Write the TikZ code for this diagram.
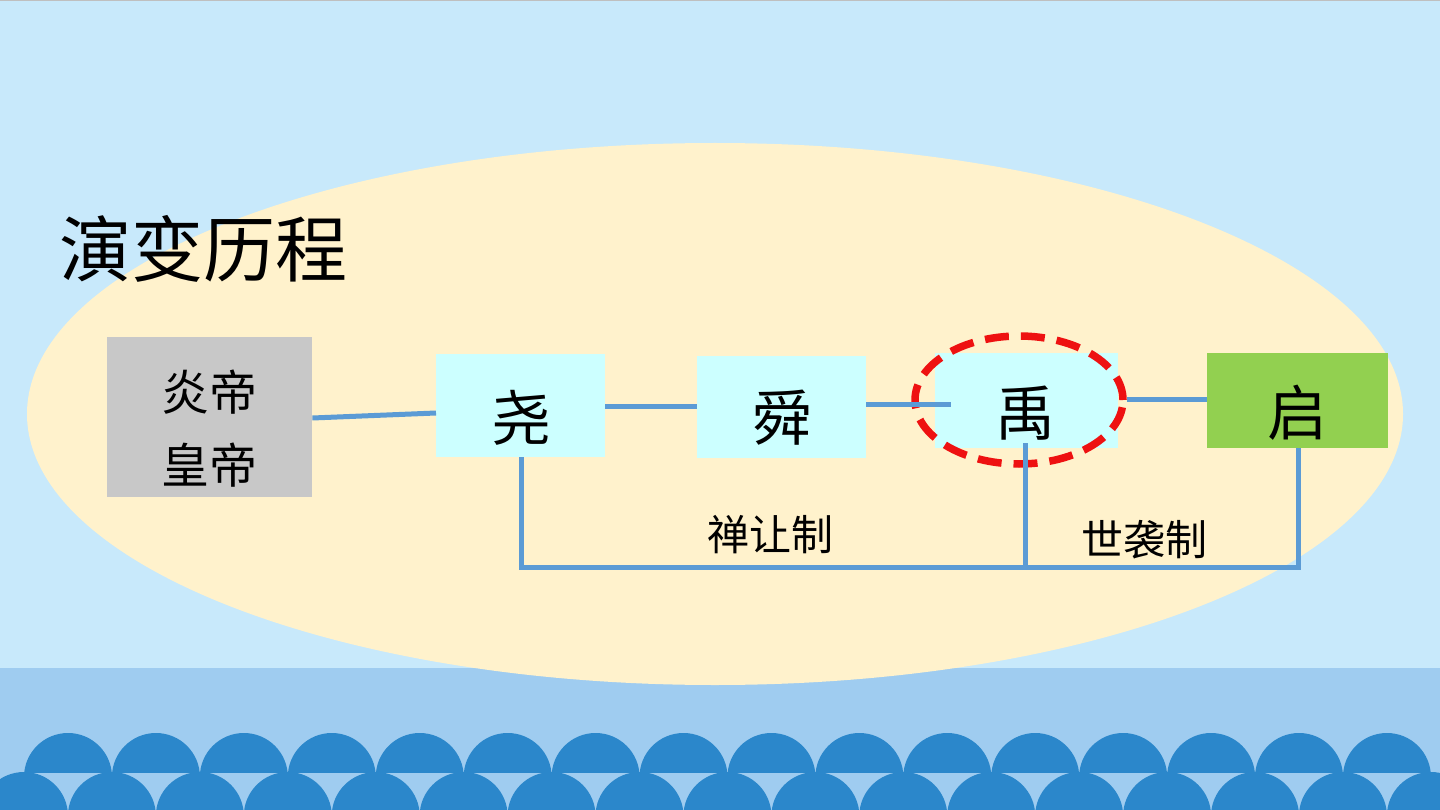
\documentclass[tikz,border=0pt]{standalone}
\usepackage{fontspec}
\setmainfont{Noto Sans CJK SC}
\usetikzlibrary{shapes.geometric}
\definecolor{skybg}{HTML}{C8E9FB}
\definecolor{bandbg}{HTML}{9FCCF0}
\definecolor{wave}{HTML}{2B87CB}
\definecolor{ellfill}{HTML}{FFF2CC}
\definecolor{graybox}{HTML}{C8C8C8}
\definecolor{cyanbox}{HTML}{CCFFFF}
\definecolor{greenbox}{HTML}{92D050}
\definecolor{link}{HTML}{5B9BD5}
\definecolor{redd}{HTML}{EE1111}
\tikzset{
  box/.style={rectangle, inner sep=0pt, anchor=north west},
  conn/.style={draw=link, line width=5pt},
  bigchar/.style={font=\fontsize{60}{70}\selectfont},
  lbl/.style={font=\fontsize{42}{50}\selectfont, inner sep=0pt}
}
\begin{document}
\begin{tikzpicture}[x=1pt,y=-1pt]
\useasboundingbox (0,0) rectangle (1440,810);
% background
\fill[skybg] (0,0) rectangle (1440,810);
\draw[gray!50, line width=1.5pt] (0,0.75) -- (1440,0.75);
\fill[bandbg] (0,668) rectangle (1440,810);
% waves
\begin{scope}
  \clip (0,700) rectangle (1440,772);
  \foreach \k in {0,...,15} {
    \fill[wave] ({68+87.93*\k},777) circle (44);
  }
\end{scope}
\begin{scope}
  \clip (0,700) rectangle (1440,810);
  \foreach \k in {0,...,16} {
    \fill[wave] ({24+87.93*\k},816) circle (44);
  }
\end{scope}
% big ellipse
\fill[ellfill] (715,414) ellipse [x radius=688, y radius=271];
% title
\node[font=\fontsize{72}{86}\selectfont, inner sep=0pt] (title) at (203,249) {演变历程};
% boxes
\node[box, fill=graybox, minimum width=205pt, minimum height=160pt] (yd) at (107,337) {};
\node[font=\fontsize{48}{58}\selectfont, inner sep=0pt] (yd1) at (209,392) {炎帝};
\node[font=\fontsize{48}{58}\selectfont, inner sep=0pt] (yd2) at (209,465) {皇帝};
\node[box, fill=cyanbox, minimum width=169pt, minimum height=103pt] (yao) at (436,354) {};
\node[bigchar, inner sep=0pt] at (521,418) {尧};
\node[box, fill=cyanbox, minimum width=169pt, minimum height=102pt] (shun) at (697,356) {};
\node[bigchar, inner sep=0pt] at (782,418) {舜};
\node[box, fill=cyanbox, minimum width=183pt, minimum height=95pt] (yu) at (935,353) {};
\node[bigchar, inner sep=0pt] at (1025,413) {禹};
\node[box, fill=greenbox, minimum width=181pt, minimum height=95pt] (qi) at (1207,353) {};
\node[bigchar, inner sep=0pt] at (1297,413) {启};
% red dashed ellipse
\node[ellipse, draw=redd, line width=7.5pt, dash pattern=on 24pt off 12pt, minimum width=208pt, minimum height=128pt, inner sep=0pt] (ring) at (1019,400) {};
% connectors
\coordinate (shunend) at (951,404);
\coordinate (yuright) at (1127,399);
\coordinate (c1) at (521,567);
\coordinate (c2) at (1298,567);
\coordinate (c3) at (1025,567);
\draw[conn] (yd.east |- 0,418) -- (yao.west |- 0,413);
\draw[conn] (yao.east |- 0,406) -- (shun.west |- 0,406);
\draw[conn] (shun.east |- 0,404) -- (shunend);
\draw[conn] (yuright) -- (qi.west |- 0,399);
\draw[conn] (yao.south -| 521,0) -- (c1) -- (c2) -- (qi.south -| 1298,0);
\draw[conn] (1025,443) -- (c3);
% labels
\node[lbl] (l1) at (770,535) {禅让制};
\node[lbl] (l2) at (1144,540) {世袭制};
\end{tikzpicture}
\end{document}
